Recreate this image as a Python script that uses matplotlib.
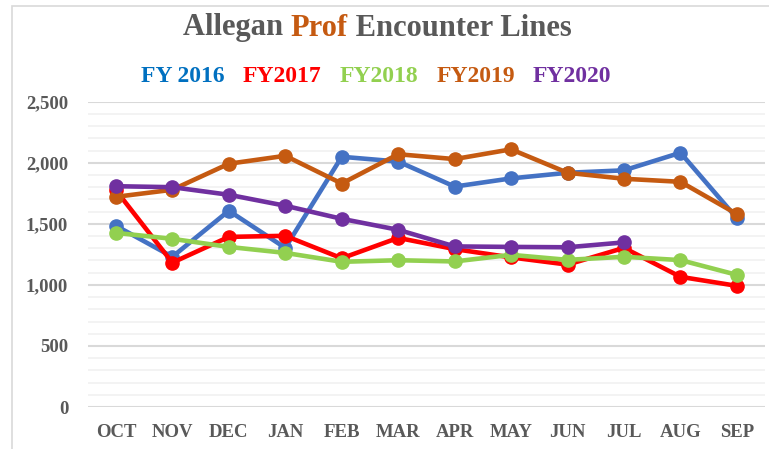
import matplotlib.pyplot as plt
from matplotlib.patches import Rectangle
from matplotlib.ticker import MultipleLocator, FuncFormatter

months = ['OCT', 'NOV', 'DEC', 'JAN', 'FEB', 'MAR', 'APR', 'MAY', 'JUN', 'JUL', 'AUG', 'SEP']

fy2016 = [1484, 1230, 1607, 1303, 2049, 2010, 1805, 1872, 1918, 1938, 2082, 1545]
fy2017 = [1775, 1182, 1393, 1402, 1218, 1385, 1293, 1225, 1166, 1303, 1066, 992]
fy2018 = [1426, 1377, 1311, 1262, 1189, 1202, 1192, 1246, 1205, 1230, 1203, 1082]
fy2019 = [1721, 1779, 1992, 2057, 1830, 2070, 2030, 2110, 1918, 1869, 1844, 1580]
fy2020 = [1808, 1800, 1738, 1648, 1541, 1451, 1315, 1311, 1308, 1348]

series_labels = ['FY 2016', 'FY2017', 'FY2018', 'FY2019', 'FY2020']
series_data = [fy2016, fy2017, fy2018, fy2019, fy2020]
line_colors = ['#4472C4', '#FF0000', '#92D050', '#C55A11', '#7030A0']
text_colors = ['#0070C0', '#FF0000', '#92D050', '#C55A11', '#7030A0']

plt.rcParams['font.family'] = ['Liberation Serif', 'DejaVu Serif']
plt.rcParams['font.weight'] = 'bold'
grey = '#595959'

fig = plt.figure(figsize=(7.69, 4.49), dpi=100)
ax = fig.add_axes([0.114, 0.0935, 0.881, 0.68])

# chart border
fig.patches.append(Rectangle((12 / 769, -0.01), 1.0, 1 - 6 / 449 + 0.01,
                             transform=fig.transFigure, fill=False,
                             edgecolor='#D9D9D9', linewidth=1.2))

x = list(range(len(months)))
for vals, col in zip(series_data, line_colors):
    ax.plot(x[:len(vals)], vals, color=col, linewidth=3.3, marker='o',
            markersize=9.5, solid_capstyle='round', zorder=3)

ax.set_xlim(-0.5, 11.5)
ax.set_ylim(0, 2500)
ax.yaxis.set_major_locator(MultipleLocator(500))
ax.yaxis.set_minor_locator(MultipleLocator(100))
ax.yaxis.set_major_formatter(FuncFormatter(lambda v, p: f'{int(v):,}'))
ax.grid(which='minor', axis='y', color='#F2F2F2', linewidth=1.3, zorder=0)
ax.grid(which='major', axis='y', color='#D9D9D9', linewidth=1.5, zorder=1)
ax.set_xticks(x)
ax.set_xticklabels(months)
ax.tick_params(which='both', length=0, labelsize=13.5, colors=grey)
ax.tick_params(axis='x', pad=12)
ax.tick_params(axis='y', pad=14)
for s in ax.spines.values():
    s.set_visible(False)

# title made of coloured pieces
parts = [('Allegan ', grey), ('Prof', '#C55A11'), (' Encounter Lines', grey)]
t = fig.text(183 / 769, 1 - 28 / 449, parts[0][0], color=parts[0][1],
             fontsize=22, fontweight='bold', va='center', ha='left')
for txt, col in parts[1:]:
    t = ax.annotate(txt, xy=(1, 0), xycoords=t, xytext=(0, 0),
                    textcoords='offset points', color=col, fontsize=22,
                    fontweight='bold', va='bottom', ha='left')

# legend as coloured text
t = fig.text(141 / 769, 1 - 76 / 449, series_labels[0], color=text_colors[0],
             fontsize=17, fontweight='bold', va='center', ha='left')
for lab, col in zip(series_labels[1:], text_colors[1:]):
    t = ax.annotate(lab, xy=(1, 0), xycoords=t, xytext=(13, 0),
                    textcoords='offset points', color=col, fontsize=17,
                    fontweight='bold', va='bottom', ha='left')

fig.savefig('out.png', dpi=100)
